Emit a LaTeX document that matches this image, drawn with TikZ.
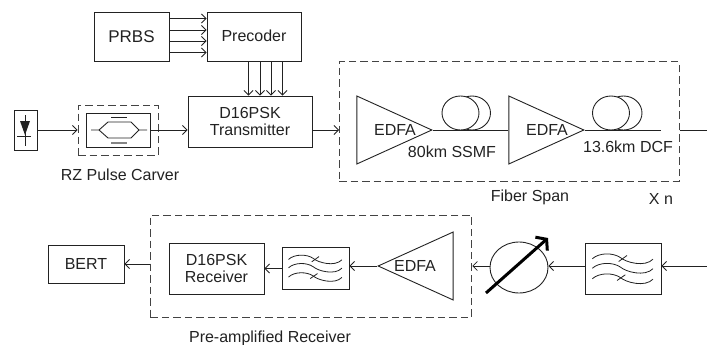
\documentclass[tikz,border=0pt]{standalone}
\usepackage{fontspec}
\setmainfont{Liberation Sans}
\usetikzlibrary{arrows.meta,shapes.geometric}
\definecolor{linecol}{HTML}{222222}
\tikzset{
	signal/.style={draw=linecol,line width=0.9pt,-{Straight Barb[length=4.5pt,width=9pt,line width=0.8pt]}},
	fiber/.style={draw=linecol,line width=0.9pt},
	block/.style={draw=linecol,line width=0.9pt,rectangle,inner sep=0pt,align=center},
	dashbox/.style={draw=linecol!85,line width=1pt,dash pattern=on 7.5pt off 4pt,rectangle,inner sep=0pt},
	amp/.style={draw=linecol,line width=0.9pt,isosceles triangle,isosceles triangle stretches,shape border rotate=0,inner sep=0pt,anchor=apex,minimum width=68pt,minimum height=75pt},
	coil/.style={draw=linecol,line width=0.9pt,ellipse,inner sep=0pt,minimum width=37pt,minimum height=34pt},
	caption/.style={inner sep=0pt,font=\fontsize{16}{18}\selectfont,text=linecol},
	filterwaves/.pic={
		\foreach \dy in {0,9.5,20}{
			\draw[line width=0.8pt,linecol] (-30.7,-9.7+\dy) .. controls (-24,-16+\dy) and (-10,-16+\dy) .. (-2.7,-11+\dy)%
				.. controls (3,-6+\dy) and (22,-1+\dy) .. (30,-9.3+\dy);%
		}
		\draw[line width=0.8pt,linecol] (-4.3,-7) -- (4,-13);%
		\draw[line width=0.8pt,linecol] (-6,12) -- (2.3,6.3);%
	}
}
\begin{document}
\begin{tikzpicture}[
	x=1pt,
	y=-1pt,
	auto
]
\useasboundingbox (0,0) rectangle (707,345);
% Hilfslinien fuer die beiden Signalzeilen
\coordinate(p_row_a) at (0,130);%
\coordinate(p_row_b) at (0,266);%
\coordinate(p_span_out) at (707,130);%
\coordinate(p_rx_in) at (707,266);%
%
% Sender
\node(p_prbs) at (131.5,36.5)%
    [block,caption,minimum width=75pt,minimum height=49pt,draw=linecol]%
    {\fontsize{17}{19}\selectfont PRBS};%
\node(p_precoder) at (254,36.5)%
    [block,caption,minimum width=94pt,minimum height=49pt,draw=linecol]%
    {\raisebox{1pt}{Precoder}};%
\node(p_tx) at (250,121.5)%
    [block,caption,minimum width=124pt,minimum height=51pt,draw=linecol]%
    {D16PSK\\[-1pt]Transmitter};%
\node(p_laser) at (25.5,130)%
    [block,minimum width=23pt,minimum height=40pt]%
    {};%
\node(p_carver) at (118,130)%
    [dashbox,minimum width=80pt,minimum height=50pt]%
    {};%
\node(p_mzm) at (118,130)%
    [block,minimum width=64pt,minimum height=34pt]%
    {};%
\node(p_carver_label) at (120,175)%
    [caption]%
    {RZ Pulse Carver};%
%
\foreach \y in {18.5,30,41,52.5}
    \draw[signal] (p_prbs.east|-0,\y) -- (p_precoder.west|-0,\y);%
\foreach \x in {248.5,260,271,282.5}
    \draw[signal] (\x,0|-p_precoder.south) -- (\x,0|-p_tx.north);%
\draw[signal] (p_laser.east) -- (p_carver.west);%
\draw[fiber] (p_mzm.east) -- (p_carver.east);%
\draw[signal] (p_carver.east) -- (p_tx.west|-p_carver.east);%
\draw[signal] (p_tx.east|-p_row_a) -- (339,130);%
%
% Laserdiode
\draw[fiber] (25,115) -- (25,146);%
\draw[fiber] (17,136) -- (31,136);%
\fill[linecol] (20,121) -- (30,121) -- (25,135) -- cycle;%
%
% Modulator
\draw[fiber] (91,130) -- (99,130) -- (108,122) -- (131,122) -- (139,130) -- (147,130);%
\draw[fiber] (99,130) -- (108,138) -- (131,138) -- (139,130);%
\draw[fiber] (111,117) -- (127,117);%
\draw[draw=linecol!55,line width=1.6pt] (111,143) -- (127,143);%
%
% Streckenabschnitt
\node(p_span) at (509,121.5)%
    [dashbox,minimum width=340pt,minimum height=119pt]%
    {};%
\node(p_edfa_a) at (433,130) [amp] {};%
\node(p_edfa_b) at (585,130) [amp] {};%
\node(p_edfa_a_label) at (395,130) [caption] {EDFA};%
\node(p_edfa_b_label) at (547,130) [caption] {EDFA};%
\node(p_ssmf_back) at (472,113) [coil] {};%
\node(p_ssmf_front) at (460.5,113) [coil,fill=white] {};%
\node(p_dcf_back) at (623.5,113) [coil] {};%
\node(p_dcf_front) at (611,113) [coil,fill=white] {};%
\coordinate(p_dcf_end) at (661,130);%
\draw[fiber] (p_edfa_a.apex) -- (p_edfa_b.lower side);%
\draw[fiber] (p_edfa_b.apex) -- (p_dcf_end);%
\draw[fiber] (p_span.east|-p_span_out) -- (p_span_out);%
\node(p_ssmf_label) at (452,152) [caption] {80km SSMF};%
\node(p_dcf_label) at (628,147) [caption] {13.6km DCF};%
\node(p_span_label) at (530,197) [caption] {Fiber Span};%
\node(p_times) at (661,199) [caption] {X n};%
%
% Empfaenger
\node(p_bert) at (86,264)%
    [block,caption,minimum width=76pt,minimum height=38pt,draw=linecol]%
    {BERT};%
\node(p_preamp) at (311,266)%
    [dashbox,minimum width=321.5pt,minimum height=102pt]%
    {};%
\node(p_rx) at (216.5,268.5)%
    [block,caption,minimum width=95pt,minimum height=51pt,draw=linecol]%
    {D16PSK\\[-1pt]Receiver};%
\node(p_filter_a) at (315.5,268)%
    [block,minimum width=67pt,minimum height=42pt]%
    {};%
\node(p_edfa_c) at (377,266)%
    [amp,shape border rotate=180,anchor=apex]%
    {};%
\node(p_edfa_c_label) at (415,266) [caption] {EDFA};%
\node(p_voa) at (519,267.5)%
    [draw=linecol,line width=0.9pt,ellipse,inner sep=0pt,minimum width=58pt,minimum height=51pt]%
    {};%
\coordinate(p_voa_start) at (486,293);%
\coordinate(p_voa_tip) at (548,238);%
\draw[line width=3pt,black,-{Straight Barb[length=7pt,width=18pt,line width=3pt]}] (p_voa_start) -- (p_voa_tip);%
\node(p_filter_b) at (623,268.5)%
    [block,minimum width=76pt,minimum height=51pt]%
    {};%
\pic at (p_filter_b) {filterwaves};%
\pic[scale=0.88] at (p_filter_a) {filterwaves};%
\node(p_preamp_label) at (270,338) [caption] {Pre-amplified Receiver};%
%
\draw[signal] (p_rx_in) -- (p_filter_b.east|-p_rx_in);%
\draw[signal] (p_filter_b.west|-p_rx_in) -- (p_voa.east|-p_rx_in);%
\draw[signal] (p_voa.west|-p_rx_in) -- (p_preamp.east|-p_rx_in);%
\draw[signal] (p_edfa_c.apex) -- (p_filter_a.east|-p_rx_in);%
\draw[signal] (p_filter_a.west|-p_rx) -- (p_rx.east);%
\draw[signal] (p_preamp.west|-p_bert) -- (p_bert.east);%
%
\end{tikzpicture}
\end{document}
